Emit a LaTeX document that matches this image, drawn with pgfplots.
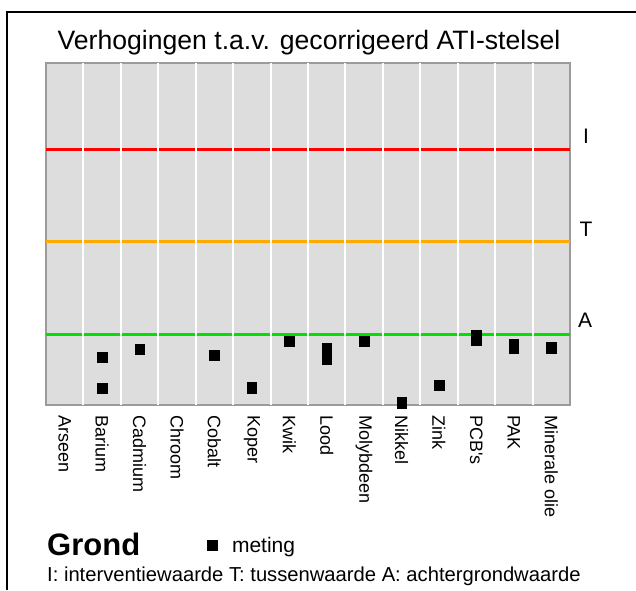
\documentclass[border=0pt]{standalone}
\usepackage{fontspec}
\setmainfont{Liberation Sans}
\usepackage{pgfplots}
\pgfplotsset{compat=1.18}
\definecolor{bg}{RGB}{221,221,221}
\definecolor{framec}{RGB}{155,155,155}
\definecolor{ired}{RGB}{255,0,0}
\definecolor{torange}{RGB}{255,170,0}
\definecolor{agreen}{RGB}{0,225,0}
\begin{document}
\begin{tikzpicture}
\useasboundingbox (0pt,0pt) rectangle (636pt,590pt);
\draw[line width=2pt] (7pt,0pt) -- (7pt,578pt) -- (637pt,578pt);
\begin{axis}[
  at={(46pt,185pt)}, anchor=south west,
  scale only axis, width=524pt, height=342pt,
  xmin=-0.5, xmax=13.5, ymin=0, ymax=342,
  clip=false,
  axis background/.style={fill=bg},
  axis line style={draw=framec, line width=2pt},
  ytick=\empty,
  xtick={0,...,13},
  xticklabels={Arseen,Barium,Cadmium,Chroom,Cobalt,Koper,Kwik,Lood,Molybdeen,Nikkel,Zink,PCB\textquotesingle s,PAK,Minerale olie},
  major tick length=0pt,
  xticklabel style={rotate=-90, anchor=west, inner sep=0pt, font=\fontsize{18}{20}\selectfont},
  xticklabel shift=10pt,
  legend image code/.code={\draw[#1] plot coordinates {(5pt,0pt)}; \path[draw=none,fill=none] (0pt,0pt) (23pt,0pt);},
  legend style={at={(axis description cs:0.307,-0.41)}, anchor=west, draw=none, fill=none,
    font=\fontsize{21}{24}\selectfont, inner sep=0pt},
]
\addplot[ired, line width=3pt, forget plot] coordinates {(-0.5,256) (13.5,256)};
\addplot[torange, line width=3pt, forget plot] coordinates {(-0.5,163.5) (13.5,163.5)};
\addplot[agreen, line width=3pt, forget plot] coordinates {(-0.5,71) (13.5,71)};
\addplot[white, line width=2pt, ycomb, forget plot] coordinates {
  (0.5,342) (1.5,342) (2.5,342) (3.5,342) (4.5,342) (5.5,342) (6.5,342)
  (7.5,342) (8.5,342) (9.5,342) (10.5,342) (11.5,342) (12.5,342)};
\addplot[only marks, mark=square*, mark size=4.8pt, mark options={black, yscale=1.1}] coordinates {
  (1,48) (1,16.7)
  (2,55.7)
  (4,50)
  (5,17.3)
  (6,63.7)
  (7,56.5) (7,46)
  (8,63.7)
  (9,2.5)
  (10,20)
  (11,69.5) (11,65.5)
  (12,60.5) (12,57)
  (13,57.3)
};
\addlegendentry{meting}
\end{axis}
\node[anchor=base, inner sep=0pt, font=\fontsize{26.6}{30}\selectfont] at (309pt,540pt) {Verhogingen t.a.v. gecorrigeerd ATI-stelsel};
\node[inner sep=0pt, font=\fontsize{21}{24}\selectfont] at (586pt,454pt) {I};
\node[inner sep=0pt, font=\fontsize{21}{24}\selectfont] at (586pt,360.5pt) {T};
\node[inner sep=0pt, font=\fontsize{21}{24}\selectfont] at (585pt,270pt) {A};
\node[anchor=base west, inner sep=0pt, font=\bfseries\fontsize{31}{34}\selectfont] at (47pt,35pt) {Grond};
\node[anchor=base west, inner sep=0pt, font=\fontsize{20.2}{24}\selectfont] at (47pt,8.5pt) {I: interventiewaarde T: tussenwaarde A: achtergrondwaarde};
\end{tikzpicture}
\end{document}
